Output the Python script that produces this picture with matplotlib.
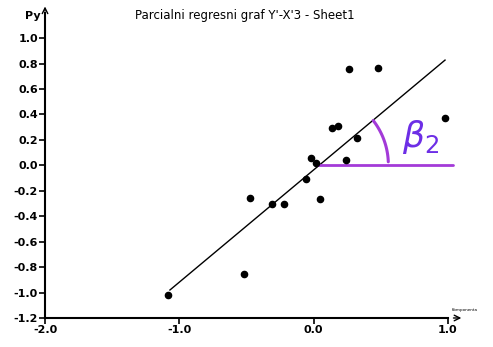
import matplotlib
matplotlib.use("Agg")
import matplotlib.pyplot as plt
import numpy as np

# data
x_vals = [-1.085, -0.52, -0.475, -0.31, -0.22, -0.06, -0.017, 0.02, 0.047,
          0.14, 0.18, 0.24, 0.32, 0.263, 0.48, 0.978]
y_vals = [-1.016, -0.858, -0.257, -0.307, -0.307, -0.105, 0.06, 0.018, -0.265,
          0.29, 0.31, 0.04, 0.215, 0.754, 0.766, 0.372]
fit_x = [-1.07, 0.978]
fit_y = [-0.98, 0.827]
x_ticks = [-2.0, -1.0, 0.0, 1.0]
y_ticks = [-1.2, -1.0, -0.8, -0.6, -0.4, -0.2, 0.0, 0.2, 0.4, 0.6, 0.8, 1.0]
title = "Parcialni regresni graf Y'-X'3 - Sheet1"

fig = plt.figure(figsize=(4.93, 3.47), dpi=100)
ax = fig.add_axes([0.0913, 0.0836, 0.8174, 0.880])
ax.set_xlim(-2.0, 1.0)
ax.set_ylim(-1.2, 1.2)

ax.plot(fit_x, fit_y, color="black", lw=1.0)
ax.scatter(x_vals, y_vals, s=20, color="black", zorder=3, clip_on=False)

# purple annotation
purple = "#a33ad8"
cx, cy = 0.02, 0.005
ax.plot([cx, 1.035], [cy, cy], color=purple, lw=2.0, clip_on=False,
        solid_capstyle="round")
# arc centred on the intersection (equal radius in pixels)
px_x = 0.8174 * 493 / 3.0   # pixels per x unit
px_y = 0.880 * 347 / 2.4    # pixels per y unit
r_px = 72
th = np.linspace(0.04, 0.66, 40)
ax.plot(cx + r_px * np.cos(th) / px_x, cy + r_px * np.sin(th) / px_y,
        color=purple, lw=2.2, solid_capstyle="round")
ax.text(0.66, 0.22, r"$\beta_2$", color="#6d2ee6", fontsize=25, ha="left",
        va="center")

ax.spines["top"].set_visible(False)
ax.spines["right"].set_visible(False)
ax.spines["left"].set_linewidth(1.5)
ax.spines["bottom"].set_linewidth(1.5)
ax.set_xticks(x_ticks)
ax.set_xticklabels([f"{v:.1f}" for v in x_ticks])
ax.set_yticks(y_ticks)
ax.set_yticklabels([f"{v:.1f}" for v in y_ticks])
ax.tick_params(direction="out", length=4, width=1.2, labelsize=8, pad=1)
for lab in ax.get_xticklabels() + ax.get_yticklabels():
    lab.set_fontweight("bold")

# axis arrows
ax.annotate("", xy=(1.12, -1.2), xytext=(1.02, -1.2),
            arrowprops=dict(arrowstyle="->", lw=1.0, color="black"),
            annotation_clip=False)
ax.annotate("", xy=(-2.0, 1.27), xytext=(-2.0, 1.19),
            arrowprops=dict(arrowstyle="->", lw=1.0, color="black"),
            annotation_clip=False)
ax.text(1.03, -1.155, "Komponenta", fontsize=3, ha="left", va="bottom")

fig.text(25 / 493, 1 - 16 / 347, "Py", fontsize=8, fontweight="bold",
         ha="left", va="center")
fig.text(245 / 493, 1 - 15 / 347, title, fontsize=8.5, ha="center", va="center")

fig.savefig("out.png", dpi=100)
